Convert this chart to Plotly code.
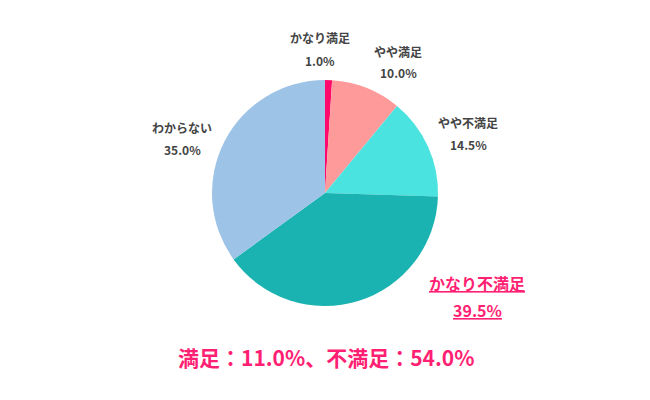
import plotly.graph_objects as go

# データ
categories = ["かなり満足", "やや満足", "やや不満足", "かなり不満足", "わからない"]
values = [1.0, 10.0, 14.5, 39.5, 35.0]
colors = ["#FF0A6C", "#FF9A9A", "#4BE3E0", "#1BB3B1", "#9DC3E6"]
highlight = "かなり不満足"
summary = "満足：11.0%、不満足：54.0%"

# ラベルの配置（画面上のピクセル位置、ラベル中心）
label_pos = {
    "かなり満足": (320, 38, 60),
    "やや満足": (398, 52, 73),
    "やや不満足": (468, 123, 144),
    "かなり不満足": (477, 283, 310),
    "わからない": (182, 127, 149),
}

W, H = 650, 400
OFF = 8  # ページ本体の余白分を補正
PINK = "#FF1F73"
GRAY = "#444444"
FONT = "Noto Sans CJK JP"


def px(x):
    return (x - OFF) / W


def py(y):
    return 1 - (y - OFF) / H


pie = go.Pie(
    labels=categories,
    values=values,
    textinfo="none",
    sort=False,
    direction="clockwise",
    rotation=0,
    marker=dict(colors=colors, line=dict(width=0)),
    showlegend=False,
    hoverinfo="label+percent",
    domain=dict(x=[px(212), px(438)], y=[py(306), py(80)]),
)

annotations = []
for c, v in zip(categories, values):
    x, y1, y2 = label_pos[c]
    if c == highlight:
        t1, t2 = f"<b><u>{c}</u></b>", f"<b><u>{v:.1f}%</u></b>"
        fnt = dict(family=FONT, size=16, color=PINK)
    else:
        t1, t2 = f"<b>{c}</b>", f"<b>{v:.1f}%</b>"
        fnt = dict(family=FONT, size=12, color=GRAY)
    for t, y in ((t1, y1), (t2, y2)):
        annotations.append(dict(
            text=t, x=px(x), y=py(y), xref="paper", yref="paper",
            xanchor="center", yanchor="middle", showarrow=False, font=fnt,
        ))

annotations.append(dict(
    text=f"<b>{summary}</b>",
    x=px(326), y=py(357), xref="paper", yref="paper",
    xanchor="center", yanchor="middle", showarrow=False,
    font=dict(family=FONT, size=21, color=PINK),
))

fig = go.Figure(data=[pie])
fig.update_layout(
    width=W,
    height=H,
    margin=dict(l=0, r=0, t=0, b=0),
    paper_bgcolor="white",
    font=dict(family=FONT),
    annotations=annotations,
)

fig.write_html("out.html")
